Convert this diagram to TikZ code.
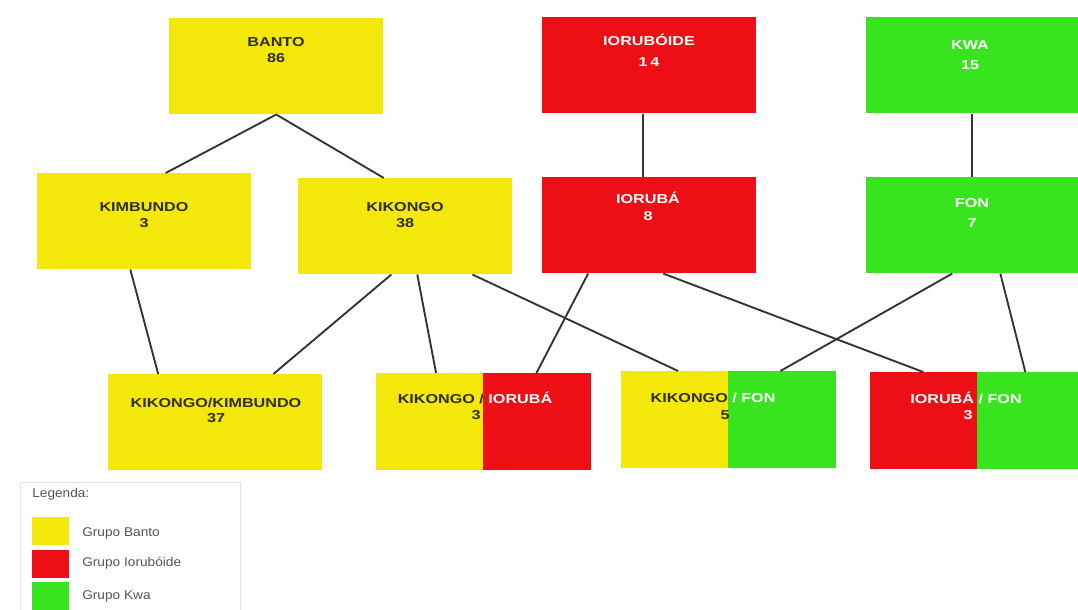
\documentclass[tikz,border=0pt]{standalone}
\usepackage{fontspec}
\setmainfont{Liberation Sans}
\usetikzlibrary{calc}
\definecolor{cy}{HTML}{F4E70A}
\definecolor{cr}{HTML}{EE0E16}
\definecolor{cg}{HTML}{37E41D}
\definecolor{ink}{HTML}{2E2E1A}
\definecolor{edge}{HTML}{333333}
\definecolor{leg}{HTML}{555555}
\definecolor{legline}{HTML}{E2E2E2}
\begin{document}
\begin{tikzpicture}[x=0.75pt,y=-0.75pt,
  box/.style={rectangle,anchor=north west,inner sep=0pt,minimum width=160.5pt,minimum height=72pt},
  lbl/.style={inner sep=0pt,font=\bfseries\fontsize{9.7}{11}\selectfont,xscale=1.25,transform shape,anchor=center},
  dk/.style={lbl,text=ink},
  wt/.style={lbl,text=white},
  conn/.style={draw=edge,line width=1.4pt},
  legtxt/.style={inner sep=0pt,anchor=west,font=\fontsize{9.5}{11}\selectfont,xscale=1.08,transform shape,text=leg},
  sw/.style={rectangle,anchor=north west,inner sep=0pt,minimum width=27.75pt,minimum height=21pt}]
\useasboundingbox (0,0) rectangle (1078,610);
\fill[white] (0,0) rectangle (1078,610);

% top row
\node[box,fill=cy] (banto) at (169,18) {};
\node[box,fill=cr] (iorb) at (542,17) {};
\node[box,fill=cg,minimum width=159pt] (kwa) at (866,17) {};
% middle row
\node[box,fill=cy] (kimb) at (37,173) {};
\node[box,fill=cy] (kik) at (298,178) {};
\node[box,fill=cr] (ior) at (542,177) {};
\node[box,fill=cg,minimum width=159pt] (fon) at (866,177) {};
% bottom row
\node[box,fill=cy] (kk) at (108,374) {};
\node[box] (ki) at (376,373) {};
\node[box] (kf) at (621,371) {};
\node[box] (if) at (870,372) {};
\fill[cy] (ki.north west) rectangle (ki.south);
\fill[cr] (ki.north) rectangle (ki.south east);
\fill[cy] (kf.north west) rectangle (kf.south);
\fill[cg] (kf.north) rectangle (kf.south east);
\fill[cr] (if.north west) rectangle (if.south);
\fill[cg] (if.north) rectangle (if.south east);

% labels
\node[dk] (banto1) at (276,42) {BANTO};
\node[dk] (banto2) at (276,58) {86};
\node[wt] (iorb1) at (649,40) {IORUBÓIDE};
\node[wt] (iorb2) at (649,62) {1\,4};
\node[wt] (kwa1) at (970,45) {KWA};
\node[wt] (kwa2) at (970,65) {15};
\node[dk] (kimb1) at (144,207) {KIMBUNDO};
\node[dk] (kimb2) at (144,223) {3};
\node[dk] (kik1) at (405,207) {KIKONGO};
\node[dk] (kik2) at (405,223) {38};
\node[wt] (ior1) at (648,198) {IORUBÁ};
\node[wt] (ior2) at (648,216) {8};
\node[wt] (fon1) at (972,203) {FON};
\node[wt] (fon2) at (972,223) {7};
\node[dk] (kk1) at (216,403) {KIKONGO/KIMBUNDO};
\node[dk] (kk2) at (216,418) {37};
% split labels
\begin{scope}
\clip (ki.north west) rectangle (ki.south);
\node[dk] (ki1) at (475,398) {KIKONGO / IORUBÁ};
\node[dk] (ki2) at (476,415) {3};
\end{scope}
\begin{scope}
\clip (ki.north) rectangle (ki.south east);
\node[wt] (ki1w) at (475,398) {KIKONGO / IORUBÁ};
\end{scope}
\begin{scope}
\clip (kf.north west) rectangle (kf.south);
\node[dk] (kf1) at (713,398) {KIKONGO / FON};
\node[dk] (kf2) at (725,415) {5};
\end{scope}
\begin{scope}
\clip (kf.north) rectangle (kf.south east);
\node[wt] (kf1w) at (713,398) {KIKONGO / FON};
\end{scope}
\node[wt] (if1) at (966,398) {IORUBÁ / FON};
\node[wt] (if2) at (968,415) {3};

% connectors
\draw[conn] (banto.south) -- ($(kimb.north west)!0.6!(kimb.north east)$);
\draw[conn] (banto.south) -- ($(kik.north west)!0.4!(kik.north east)$);
\draw[conn] ($(iorb.south west)!0.47!(iorb.south east)$) -- ($(ior.north west)!0.47!(ior.north east)$);
\draw[conn] (kwa.south) -- (fon.north);
\draw[conn] ($(kimb.south west)!0.435!(kimb.south east)$) -- ($(kk.north west)!0.234!(kk.north east)$);
\draw[conn] ($(kik.south west)!0.435!(kik.south east)$) -- ($(kk.north west)!0.771!(kk.north east)$);
\draw[conn] ($(kik.south west)!0.556!(kik.south east)$) -- ($(ki.north west)!0.28!(ki.north east)$);
\draw[conn] ($(kik.south west)!0.813!(kik.south east)$) -- ($(kf.north west)!0.266!(kf.north east)$);
\draw[conn] ($(ior.south west)!0.215!(ior.south east)$) -- ($(ki.north west)!0.748!(ki.north east)$);
\draw[conn] ($(ior.south west)!0.565!(ior.south east)$) -- ($(if.north west)!0.248!(if.north east)$);
\draw[conn] ($(fon.south west)!0.406!(fon.south east)$) -- ($(kf.north west)!0.743!(kf.north east)$);
\draw[conn] ($(fon.south west)!0.632!(fon.south east)$) -- ($(if.north west)!0.724!(if.north east)$);

% legend
\node[rectangle,draw=legline,line width=0.8pt,anchor=north west,inner sep=0pt,minimum width=165pt,minimum height=105pt] (legend) at (20,482) {};
\node[legtxt] (legt) at (32,494) {Legenda:};
\node[sw,fill=cy] (sw1) at (32,517) {};
\node[sw,fill=cr] (sw2) at (32,550) {};
\node[sw,fill=cg] (sw3) at (32,582) {};
\node[legtxt] (lt1) at (82,533) {Grupo Banto};
\node[legtxt] (lt2) at (82,563) {Grupo Iorubóide};
\node[legtxt] (lt3) at (82,596) {Grupo Kwa};
\end{tikzpicture}
\end{document}
